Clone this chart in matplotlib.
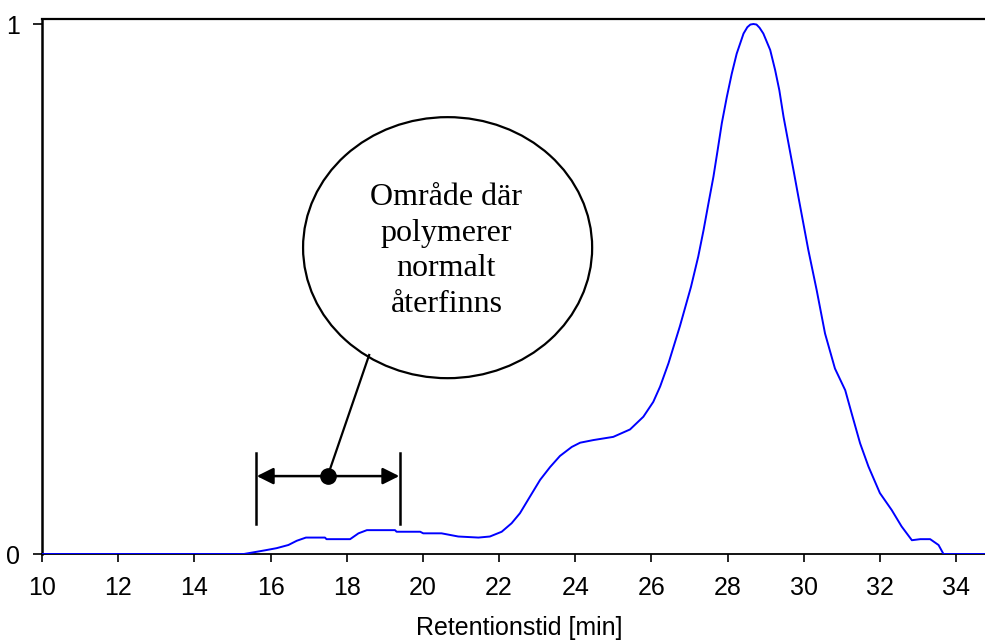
import matplotlib
matplotlib.use("Agg")
import matplotlib.pyplot as plt
from matplotlib.patches import Ellipse
import numpy as np

# Chromatogram data (retention time [min], normalized signal)
time_min = [10.0, 15.3, 15.46, 15.86, 16.16, 16.47, 16.69, 16.93, 17.43, 17.47, 18.09,
            18.31, 18.53, 19.27, 19.31, 19.93, 20.01, 20.49, 20.93, 21.46, 21.76, 22.07,
            22.33, 22.55, 22.81, 23.08, 23.34, 23.60, 23.91, 24.13, 24.48, 25.00, 25.44,
            25.79, 26.05, 26.23, 26.45, 26.75, 27.04, 27.23, 27.37, 27.50, 27.63, 27.74,
            27.85, 27.98, 28.11, 28.24, 28.42, 28.52, 28.60, 28.68, 28.76, 28.84, 28.94,
            29.12, 29.25, 29.36, 29.47,
            29.60, 29.73, 29.86, 29.99, 30.12, 30.34, 30.56, 30.82, 31.09, 31.26, 31.48,
            31.70, 32.00, 32.31, 32.57, 32.84, 33.06, 33.32, 33.54, 33.67, 34.76]
signal = [0.0, 0.0, 0.002, 0.007, 0.011, 0.017, 0.025, 0.031, 0.031, 0.028, 0.028,
          0.039, 0.045, 0.045, 0.042, 0.042, 0.039, 0.039, 0.033, 0.031, 0.033, 0.042,
          0.058, 0.077, 0.108, 0.140, 0.164, 0.185, 0.202, 0.210, 0.215, 0.221, 0.235,
          0.259, 0.287, 0.316, 0.360, 0.430, 0.504, 0.561, 0.611, 0.662, 0.712, 0.762,
          0.813, 0.862, 0.906, 0.944, 0.982, 0.994, 0.999, 1.0, 0.999, 0.993, 0.982,
          0.951, 0.913, 0.875, 0.825,
          0.775, 0.725, 0.674, 0.624, 0.574, 0.498, 0.416, 0.350, 0.309, 0.265, 0.209,
          0.165, 0.115, 0.083, 0.052, 0.026, 0.028, 0.028, 0.017, 0.0, 0.0]

x_ticks = [10, 12, 14, 16, 18, 20, 22, 24, 26, 28, 30, 32, 34]
y_ticks = [0, 1]
y_tick_labels = ["0", "1"]
x_label = "Retentionstid [min]"
bubble_text = "Område där\npolymerer\nnormalt\nåterfinns"
range_start, range_end = 15.62, 19.40
range_y = 0.147

fig = plt.figure(figsize=(9.85, 6.41), dpi=100)
ax = fig.add_axes([42/985, 87/641, 943/985, 535/641])

ax.plot(time_min, signal, color="#0000FF", lw=1.4, zorder=3)

ax.set_xlim(10, 34.76)
ax.set_ylim(0, 1 + 5/530)
ax.set_xticks(x_ticks)
ax.set_xticklabels([str(t) for t in x_ticks])
ax.set_yticks(y_ticks)
ax.set_yticklabels(y_tick_labels)

for lab in ax.get_xticklabels() + ax.get_yticklabels():
    lab.set_fontfamily("Liberation Sans")
    lab.set_fontsize(18)
ax.tick_params(axis="x", direction="out", length=6, width=1.2, pad=10)
ax.tick_params(axis="y", direction="out", length=6.5, width=1.2, pad=9)

ax.spines["right"].set_visible(False)
ax.spines["left"].set_linewidth(1.8)
ax.spines["top"].set_linewidth(1.6)
ax.spines["bottom"].set_linewidth(1.3)

fig.text(519/985, 1 - 628/641, x_label, ha="center", va="center",
         fontfamily="Liberation Sans", fontsize=18)

# Bubble annotation
ell = Ellipse((20.65, 0.578), width=7.59, height=0.4925, fill=False,
              edgecolor="black", lw=1.6, zorder=4)
ax.add_patch(ell)
ax.text(20.62, 0.572, bubble_text, ha="center", va="center",
        fontfamily="Liberation Serif", fontsize=23, linespacing=1.3, zorder=5)

# Connector
ax.plot([18.59, 17.50], [0.3755, range_y], color="black", lw=1.6, zorder=4)

# Range bars
for xb in (range_start, range_end):
    ax.plot([xb, xb], [0.0566, 0.190], color="black", lw=1.8, zorder=4)

# Double arrow
for xe in (range_start + 0.02, range_end - 0.02):
    ax.annotate("", xy=(xe, range_y), xytext=(17.5, range_y),
                arrowprops=dict(arrowstyle="-|>,head_length=1.0,head_width=0.5",
                                color="black", lw=1.8, shrinkA=0, shrinkB=0), zorder=4)
ax.plot([17.50], [range_y], "o", color="black", ms=11, zorder=6)

fig.savefig("out.png", dpi=100)
